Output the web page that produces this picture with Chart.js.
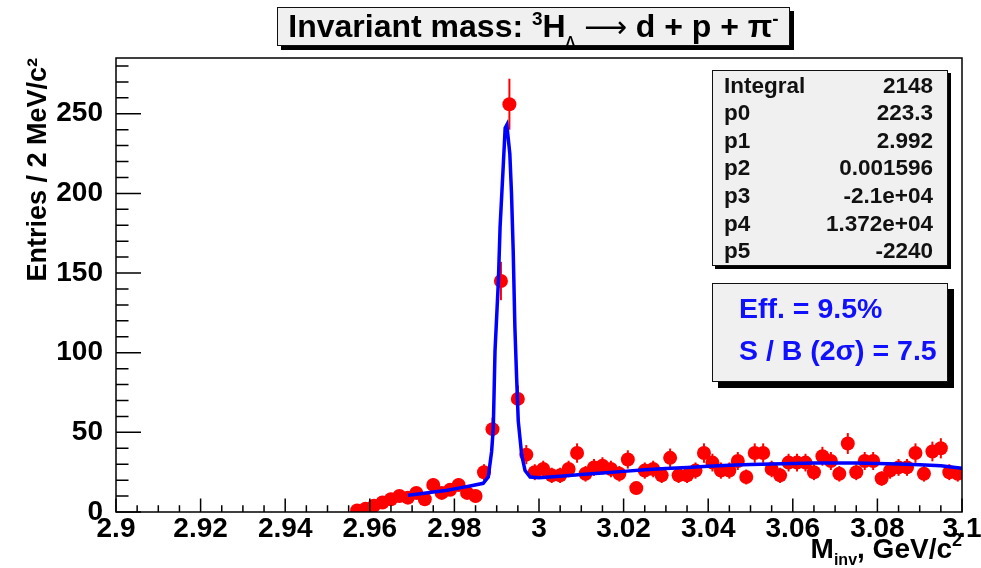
<!DOCTYPE html>
<html><head><meta charset="utf-8">
<script src="https://cdn.jsdelivr.net/npm/chart.js@4.4.1/dist/chart.umd.min.js"></script>
<style>
html,body{margin:0;padding:0;background:#fff;}
#wrap{position:relative;width:981px;height:568px;overflow:hidden;font-family:'Liberation Sans',Arial,Helvetica,sans-serif;}
#c{position:absolute;left:0;top:0;}
.box{position:absolute;background:#f0f0f0;border:1.5px solid #111;box-sizing:border-box;}
#title{left:277px;top:7px;width:513px;height:39px;box-shadow:4px 4px 0 #000;text-align:center;font-weight:bold;font-size:32px;line-height:37px;white-space:nowrap;color:#000;}
#title sup{font-size:19px;vertical-align:12px;line-height:0;}
#title sub{font-size:14px;vertical-align:-9px;line-height:0;}
#title .arr{font-family:'DejaVu Sans',sans-serif;font-weight:normal;font-size:30px;}
#stats{left:712px;top:70px;width:236px;height:196px;box-shadow:3px 3px 0 #000;}
.row{position:absolute;left:11px;right:14px;height:26px;font-weight:bold;font-size:22.5px;line-height:26px;color:#111;}
.row span{float:right;}
#eff{left:712px;top:283px;width:236px;height:99px;box-shadow:6px 6px 0 #000;}
.erow{position:absolute;left:26px;height:32px;font-weight:bold;font-size:28.5px;line-height:32px;color:#1010ff;white-space:nowrap;}
#xtitle{position:absolute;right:19px;top:534px;font-weight:bold;font-size:28px;line-height:30px;color:#000;white-space:nowrap;}
#xtitle sub{font-size:16px;vertical-align:-7px;line-height:0;}
#xtitle sup{font-size:18px;vertical-align:12px;line-height:0;}
</style>
</head><body>
<div id="wrap">
<canvas id="c" width="981" height="568"></canvas>
<div id="title" class="box">Invariant mass: <sup>3</sup>H<sub>Λ</sub> <span class="arr">⟶</span> d + p + π<sup>-</sup></div>
<div id="stats" class="box">
 <div class="row" style="top:2px">Integral<span>2148</span></div>
 <div class="row" style="top:29px">p0<span>223.3</span></div>
 <div class="row" style="top:57px">p1<span>2.992</span></div>
 <div class="row" style="top:84px">p2<span>0.001596</span></div>
 <div class="row" style="top:112px">p3<span>-2.1e+04</span></div>
 <div class="row" style="top:140px">p4<span>1.372e+04</span></div>
 <div class="row" style="top:167px">p5<span>-2240</span></div>
</div>
<div id="eff" class="box">
 <div class="erow" style="top:8px">Eff. = 9.5%</div>
 <div class="erow" style="top:50px">S / B (2σ) = 7.5</div>
</div>
<div id="xtitle">M<sub>inv</sub>, GeV/c<sup>2</sup></div>
</div>
<script>
// bin centres (GeV/c^2), 2 MeV bins
const binCenters = [2.957,2.959,2.961,2.963,2.965,2.967,2.969,2.971,2.973,2.975,2.977,2.979,2.981,2.983,2.985,2.987,2.989,2.991,2.993,2.995,2.997,2.999,
3.001,3.003,3.005,3.007,3.009,3.011,3.013,3.015,3.017,3.019,3.021,3.023,3.025,3.027,3.029,3.031,3.033,3.035,3.037,3.039,3.041,3.043,3.045,3.047,3.049,
3.051,3.053,3.055,3.057,3.059,3.061,3.063,3.065,3.067,3.069,3.071,3.073,3.075,3.077,3.079,3.081,3.083,3.085,3.087,3.089,3.091,3.093,3.095,3.097,3.099];
// entries per bin
const counts = [1,2,4,6,8,10,9,12,8,17,12,14,17,12,10,25,52,145,256,71,36,25,
27,23,23,27,37,24,28,29,27,24,33,15,26,27,23,34,23,23,26,37,31,26,26,32,22,
37,37,27,23,31,31,31,25,35,32,24,43,25,32,32,21,26,28,28,37,24,38,40,25,24];
// fitted curve
const fitX = [2.969,2.972,2.975,2.978,2.981,2.984,2.9868,2.988,2.9888,2.9892,2.9896,2.9904,2.9908,2.9916,2.992,2.9924,2.9931,2.9935,2.9939,2.9943,2.9947,2.9951,2.9959,2.9967,2.9979,
3.0,3.005,3.01,3.015,3.02,3.025,3.03,3.035,3.04,3.045,3.05,3.055,3.06,3.065,3.07,3.075,3.08,3.085,3.09,3.095,3.1];
const fitY = [10.5,11.5,12.5,13.5,15,16.5,18,22,38,53,101,145,179,220,241,243,225,200,164,116,85,57,36,26,22,
21.5,22.5,23.5,24.5,25.5,26.5,27.3,28,28.7,29.3,29.8,30.2,30.5,30.7,30.8,30.7,30.5,30.2,29.7,29,27.5];
const xTickLabels = [2.9,2.92,2.94,2.96,2.98,3,3.02,3.04,3.06,3.08,3.1];
const yTickLabels = [0,50,100,150,200,250];

Chart.defaults.font.family = "'Liberation Sans', Arial, Helvetica, sans-serif";

const pointsData = binCenters.map((x,i)=>({x:x, y:counts[i]}));
const fitData = fitX.map((x,i)=>({x:x, y:fitY[i]}));

const rootFrame = {
  id:'rootFrame',
  beforeDatasetsDraw(chart){
    const {ctx, scales:{x,y}} = chart;
    ctx.save();
    ctx.strokeStyle = '#ff0000'; ctx.lineWidth = 2;
    counts.forEach((v,i)=>{
      const e = Math.sqrt(v);
      const px = x.getPixelForValue(binCenters[i]);
      ctx.beginPath();
      ctx.moveTo(px, y.getPixelForValue(v-e));
      ctx.lineTo(px, y.getPixelForValue(v+e));
      ctx.stroke();
    });
    ctx.restore();
  },
  afterDraw(chart){
    const {ctx, chartArea:a, scales:{x,y}} = chart;
    ctx.save();
    ctx.strokeStyle = '#000'; ctx.lineWidth = 1.5;
    ctx.strokeRect(a.left, a.top, a.right-a.left, a.bottom-a.top);
    ctx.beginPath();
    for(let k=0;k<=40;k++){
      const v = x.min + (x.max-x.min)*k/40;
      const px = x.getPixelForValue(v);
      const len = (k%4===0)?13.5:6.8;
      ctx.moveTo(px, a.bottom); ctx.lineTo(px, a.bottom-len);
    }
    for(let k=0;k<=28;k++){
      const v = k*10;
      const py = y.getPixelForValue(v);
      const len = (k%5===0)?25:12.5;
      ctx.moveTo(a.left, py); ctx.lineTo(a.left+len, py);
    }
    ctx.stroke();
    ctx.restore();
  }
};

new Chart(document.getElementById('c'), {
  type:'scatter',
  data:{datasets:[
    {label:'fit', data:fitData, showLine:true, borderColor:'#0000ff', backgroundColor:'#0000ff', borderWidth:3.5, pointRadius:0, tension:0},
    {label:'data', data:pointsData, showLine:false, pointRadius:7, pointHoverRadius:7, backgroundColor:'#ff0000', borderWidth:0}
  ]},
  options:{
    responsive:false, animation:false, devicePixelRatio:1,
    layout:{padding:{top:58,right:19,left:0,bottom:0}},
    plugins:{legend:{display:false}, tooltip:{enabled:false}},
    scales:{
      x:{type:'linear', min:2.9, max:3.1,
        grid:{display:false}, border:{display:false},
        afterBuildTicks:s=>{s.ticks = xTickLabels.map(v=>({value:v}));},
        ticks:{font:{size:28,weight:'bold'}, color:'#000', padding:-8, maxRotation:0, autoSkip:false, callback:v=>String(v)},
        afterFit:s=>{s.height=56; s.paddingLeft=0; s.paddingRight=0;}
      },
      y:{type:'linear', min:0, max:285,
        grid:{display:false}, border:{display:false},
        afterBuildTicks:s=>{s.ticks = yTickLabels.map(v=>({value:v}));},
        ticks:{font:{size:28,weight:'bold'}, color:'#000', padding:5, autoSkip:false, callback:v=>String(v)},
        title:{display:true, text:'Entries / 2 MeV/c²', align:'end', color:'#000', font:{size:27,weight:'bold'}, padding:{top:22,bottom:0}},
        afterFit:s=>{s.width=116; s.paddingTop=0; s.paddingBottom=0;}
      }
    }
  },
  plugins:[rootFrame]
});
</script>
</body></html>
